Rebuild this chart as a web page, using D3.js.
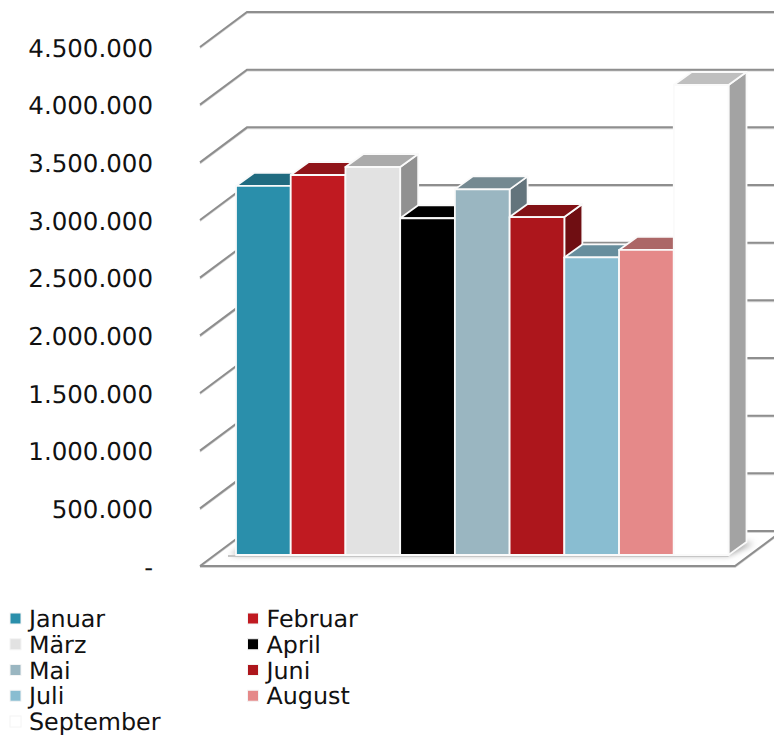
<!DOCTYPE html>
<html><head><meta charset="utf-8">
<script src="https://cdn.jsdelivr.net/npm/d3@7"></script>
<style>html,body{margin:0;padding:0;background:#fff;overflow:hidden}svg{display:block}text{font-family:"DejaVu Sans",Verdana,sans-serif;fill:#111;text-rendering:geometricPrecision}</style>
</head><body><svg id="c" width="774" height="735"></svg>
<script>
const months=["Januar","Februar","März","April","Mai","Juni","Juli","August","September"];
const values=[3200000,3295000,3364000,2920000,3170000,2930000,2580000,2645000,4075000];
const colors=["#2a8fab","#c01a21","#e2e2e2","#000000","#9ab6c1","#ad161c","#89bdd1","#e58989","#ffffff"];
const tickValues=[0,500000,1000000,1500000,2000000,2500000,3000000,3500000,4000000,4500000];

const W=774,H=735;
const svg=d3.select("#c");
const defs=svg.append("defs");
defs.append("filter").attr("id","blur").attr("x","-20%").attr("y","-50%").attr("width","140%").attr("height","200%")
  .append("feGaussianBlur").attr("stdDeviation",3);
defs.append("filter").attr("id","soft").attr("x","-5%").attr("y","-5%").attr("width","110%").attr("height","110%")
  .append("feGaussianBlur").attr("stdDeviation",0.45);

const y=d3.scaleLinear().domain([0,4500000]).range([566,47]);
const x=d3.scaleBand().domain(months).range([236,728.5]);
const wallDx=47,wallDy=-35,floorRight=735,floorLeft=200;
const barBase=-11,barDx=18,barDy=-13;
const yb=v=>y(v)+barBase;

// walls
const grid=svg.append("g").attr("fill","none").attr("filter","url(#soft)");
const wall=(g,dy,col,w)=>{
  g.selectAll(null).data(tickValues).join("path")
   .attr("d",d=>`M${floorLeft},${y(d)+dy}L${floorLeft+wallDx},${y(d)+wallDy+dy}L${W+5},${y(d)+wallDy+dy}`)
   .attr("stroke",col).attr("stroke-width",w);
};
wall(grid,1.2,"#d4d4d4",1.5);
wall(grid,0,"#8e8e8e",2);
// floor
grid.append("path").attr("d",`M${floorLeft},${y(0)+1.2}L${floorRight},${y(0)+1.2}L${floorRight+wallDx},${y(0)+wallDy+1.2}`).attr("stroke","#d4d4d4").attr("stroke-width",1.5);
grid.append("path").attr("d",`M${floorLeft},${y(0)}L${floorRight},${y(0)}L${floorRight+wallDx},${y(0)+wallDy}`).attr("stroke","#8e8e8e").attr("stroke-width",2);

// shadow under the bars
const x0=x.range()[0],x1=x.range()[1],base=yb(0);
svg.append("path").attr("d",`M${x0-6},${base}L${x1},${base}L${x1+barDx+8},${base+barDy+1}L${x0+barDx},${base+barDy}Z`)
   .attr("fill","#9a9a9a").attr("filter","url(#blur)");
svg.append("line").attr("x1",x0-8).attr("x2",x1).attr("y1",base+1).attr("y2",base+1).attr("stroke","#c6c6c6").attr("stroke-width",2);

// bars
const shade=(c,f)=>{const r=d3.rgb(c);return d3.rgb(r.r*f,r.g*f,r.b*f).formatHex();};
const rows=months.map((m,i)=>({m,v:values[i],c:colors[i]}));
const bars=svg.append("g").selectAll("g").data(rows).join("g")
  .attr("stroke","#fafafa").attr("stroke-width",1.8).attr("stroke-linejoin","round");
bars.append("path").attr("fill",d=>shade(d.c,0.64))
  .attr("d",d=>{const r=x(d.m)+x.bandwidth();return `M${r},${yb(d.v)}L${r+barDx},${yb(d.v)+barDy}L${r+barDx},${base+barDy}L${r},${base}Z`;});
bars.append("path").attr("fill",d=>shade(d.c,0.75))
  .attr("d",d=>{const l=x(d.m),r=l+x.bandwidth(),t=yb(d.v);return `M${l},${t}L${l+barDx},${t+barDy}L${r+barDx},${t+barDy}L${r},${t}Z`;});
bars.append("rect").attr("fill",d=>d.c)
  .attr("x",d=>x(d.m)).attr("width",x.bandwidth()).attr("y",d=>yb(d.v)).attr("height",d=>base-yb(d.v));

// value axis
const loc=d3.formatLocale({decimal:",",thousands:".",grouping:[3],currency:["","€"]});
const fmt=loc.format(",d");
const axis=d3.axisLeft(y).tickValues(tickValues).tickSize(0).tickPadding(0).tickFormat(d=>d===0?"-":fmt(d));
const ag=svg.append("g").attr("transform","translate(153,0)").call(axis);
ag.select(".domain").remove();
ag.selectAll("text").style("font-family",'"DejaVu Sans",Verdana,sans-serif').style("font-size","24.5px").attr("fill","#111").attr("dy","0.38em");

// legend
const colX=[10,247.5],rowY=d3.scaleLinear().domain([0,4]).range([618.5,721.5]);
const leg=svg.append("g").selectAll("g").data(rows).join("g")
  .attr("transform",(d,i)=>`translate(${colX[i%2]},${rowY(Math.floor(i/2))})`);
leg.append("rect").attr("x",0).attr("y",-5.5).attr("width",11).attr("height",11).attr("fill",d=>d.c)
  .attr("stroke","#f4f4f4").attr("stroke-width",1);
leg.append("text").attr("x",19).attr("y",0).attr("dy","0.36em").attr("font-size",23.8).text(d=>d.m);
</script></body></html>
